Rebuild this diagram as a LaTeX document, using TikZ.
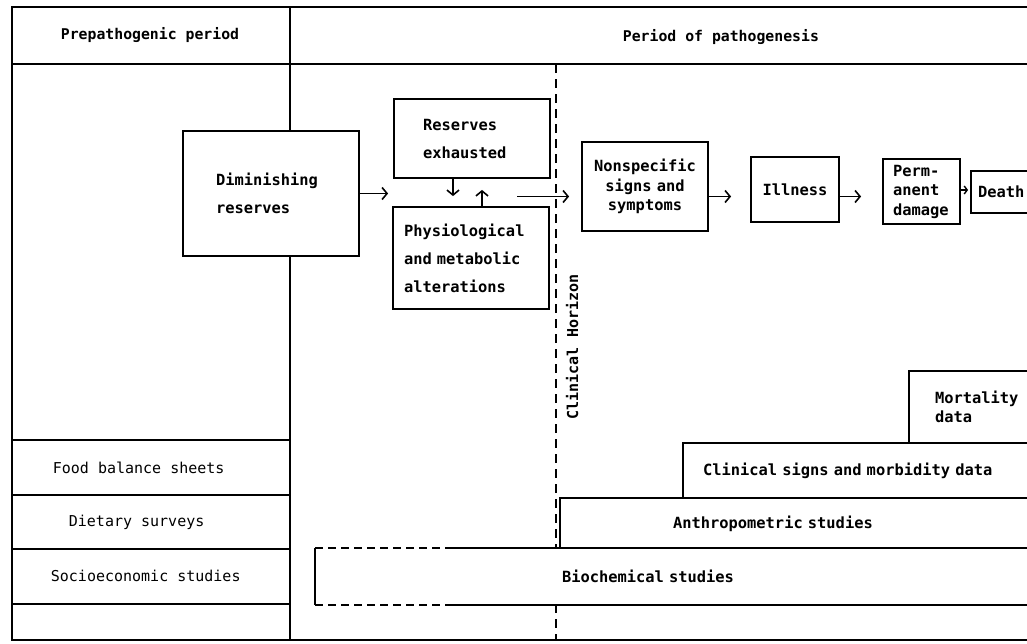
\documentclass[tikz,border=0pt]{standalone}
\usepackage{fontspec}
\newfontfamily\tw{DejaVu Sans Mono}
\usetikzlibrary{arrows.meta}
\begin{document}
\begin{tikzpicture}[x=1pt,y=-1pt,line width=1.8pt,
  box/.style={draw,fill=white,inner sep=0pt,font=\tw\bfseries\fontsize{15.4}{28}\selectfont},
  tightbox/.style={box,font=\tw\bfseries\fontsize{15.4}{19.5}\selectfont},
  arr/.style={line width=1.6pt,-{Straight Barb[length=5pt,width=12pt,line width=1.6pt]}},
  smallarr/.style={line width=1.6pt,-{Straight Barb[length=3pt,width=8pt,line width=1.4pt]}},
  lbl/.style={font=\tw\fontsize{15}{18}\selectfont,anchor=west,inner sep=0pt},
  head/.style={font=\tw\bfseries\fontsize{14.8}{18}\selectfont,anchor=west,inner sep=0pt},
  horizon/.style={line width=1.8pt,dash pattern=on 9pt off 6pt},
  bdash/.style={line width=1.8pt,dash pattern=on 8pt off 5pt}]
\useasboundingbox (0,0) rectangle (1027,643);
\clip (0,0) rectangle (1027,643);
\fill[white] (0,0) rectangle (1027,643);

% frame and grid
\coordinate (tl) at (12,7);
\coordinate (bl) at (12,640);
\coordinate (tr) at (1040,7);
\coordinate (br) at (1040,640);
\coordinate (hl) at (12,64);
\coordinate (hr) at (1040,64);
\coordinate (dt) at (290,7);
\coordinate (db) at (290,640);
\draw (tr) -- (tl) -- (bl) -- (br);
\draw (hl) -- (hr);
\draw (dt) -- (db);
\foreach \yy in {440,495,549,604}{\draw (12,\yy) -- (290,\yy);}

% clinical horizon
\coordinate (ch1) at (556,64);
\coordinate (ch2) at (556,640);
\draw[horizon] (ch1) -- (ch2);
\node[font=\tw\bfseries\fontsize{15}{18}\selectfont,rotate=90,inner sep=0pt] (chtext) at (572,347) {Clinical Horizon};

% headers
\node[head] (prep) at (60,35) {Prepathogenic period};
\node[head] (path) at (622,37) {Period of pathogenesis};

% flow boxes
\node[box,minimum width=176,minimum height=125,text width=110,align=left] (dim) at (271,193.5) {Diminishing\\reserves};
\node[box,minimum width=156,minimum height=79,text width=98,align=left] (res) at (472,138.5) {Reserves\\exhausted};
\node[box,minimum width=156,minimum height=102,text width=134,align=left] (phys) at (471,258) {Physiological\\and metabolic\\alterations};
\node[tightbox,minimum width=126,minimum height=89,text width=120,align=center] (nonspec) at (645,186.5) {Nonspecific\\signs and\\symptoms};
\node[box,minimum width=88,minimum height=65] (ill) at (795,189.5) {Illness};
\node[tightbox,minimum width=77,minimum height=65,text width=57,align=left] (perm) at (921.5,191.5) {Perm-\\anent\\damage};
\node[box,minimum width=70,minimum height=42,text width=56,align=left] (death) at (1006,192) {Death};

% arrows
\coordinate (row) at (0,196.5);
\coordinate (dnx) at (453,0);
\coordinate (upx) at (482,0);
\coordinate (gap) at (517,196.5);
\draw[arr,shorten >=5pt] (dim.east) -- (res.west |- dim.east);
\draw[arr,shorten >=10pt] (res.south -| dnx) -- (phys.north -| dnx);
\draw[arr,shorten >=11pt] (phys.north -| upx) -- (res.south -| upx);
\draw[arr,shorten >=12pt] (gap) -- (nonspec.west |- gap);
\draw[arr,shorten >=19pt] (nonspec.east |- row) -- (ill.west |- row);
\draw[arr,shorten >=21pt] (ill.east |- row) -- (perm.west |- row);
\coordinate (drow) at (0,190);
\draw[smallarr,shorten >=2pt] (perm.east |- drow) -- (death.west |- drow);

% left column labels
\node[lbl] (food) at (52,468) {Food balance sheets};
\node[lbl] (diet) at (68,522) {Dietary surveys};
\node[lbl] (socio) at (50,576) {Socioeconomic studies};

% assessment steps
\node[box,minimum width=136,minimum height=72,text width=84,align=left,font=\tw\bfseries\fontsize{15.4}{19}\selectfont] (mort) at (977,407) {Mortality\\data};
\node[box,minimum width=362,minimum height=55,text width=322,align=left] (clin) at (864,470.5) {Clinical signs and morbidity data};
\node[box,minimum width=485,minimum height=52,text width=259,align=left] (anthro) at (802.5,524) {Anthropometric studies};
\node[box,draw=none,minimum width=729,minimum height=55,text width=237,align=left] (bio) at (680.5,576.5) {Biochemical studies};
\coordinate (dsh) at (447,0);
\draw (bio.north west) -- (bio.south west);
\draw[bdash] (bio.north west) -- (bio.north -| dsh);
\draw (bio.north -| dsh) -- (bio.north east);
\draw[bdash] (bio.south west) -- (bio.south -| dsh);
\draw (bio.south -| dsh) -- (bio.south east);
\end{tikzpicture}
\end{document}
